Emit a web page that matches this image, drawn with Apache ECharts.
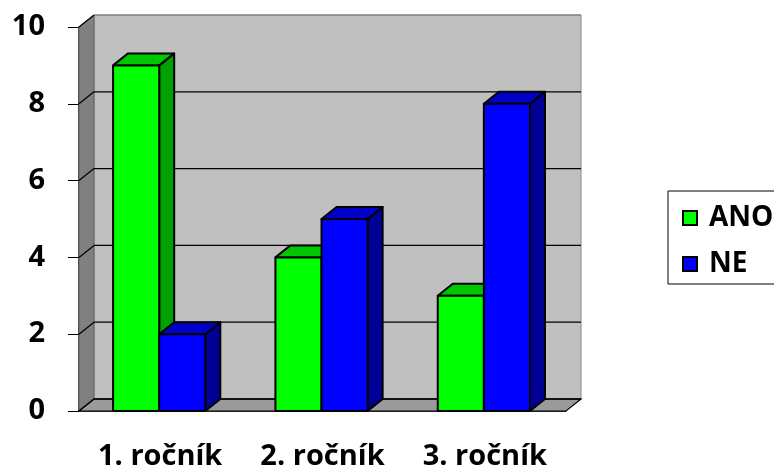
<!DOCTYPE html>
<html><head><meta charset="utf-8">
<script src="https://cdn.jsdelivr.net/npm/echarts/dist/echarts.min.js"></script>
<style>html,body{margin:0;padding:0;background:#fff}#c{width:774px;height:471px}</style>
</head><body><div id="c"></div>
<script>
const categories = ['1. ročník', '2. ročník', '3. ročník'];
const anoValues = [9, 4, 3];
const neValues = [2, 5, 8];
const yTicks = [0, 2, 4, 6, 8, 10];

const DX = 15, DY = -12;
const FONT = '"Open Sans", "Noto Sans", sans-serif';

function renderWalls(params, api) {
  const cs = params.coordSys;
  const x0 = cs.x, x1 = cs.x + cs.width, yb = cs.y + cs.height, yt = cs.y;
  const ch = [];
  ch.push({type: 'polygon', shape: {points: [[x0 + DX, yt + DY], [x1 + DX, yt + DY], [x1 + DX, yb + DY], [x0 + DX, yb + DY]]},
    style: {fill: '#c0c0c0', stroke: '#8a8a8a', lineWidth: 1}});
  ch.push({type: 'polygon', shape: {points: [[x0, yb], [x0, yt], [x0 + DX, yt + DY], [x0 + DX, yb + DY]]},
    style: {fill: '#808080', stroke: '#606060', lineWidth: 1}});
  ch.push({type: 'polygon', shape: {points: [[x0, yb], [x1, yb], [x1 + DX, yb + DY], [x0 + DX, yb + DY]]},
    style: {fill: '#9a9a9a', stroke: '#000', lineWidth: 1.2}});
  yTicks.forEach(function (t) {
    const y = api.coord([0, t])[1];
    const top = t === yTicks[yTicks.length - 1];
    ch.push({type: 'polyline', shape: {points: [[x0, y], [x0 + DX, y + DY]]},
      style: {stroke: '#000', lineWidth: 1.3, fill: null}});
    ch.push({type: 'polyline', shape: {points: [[x0 + DX, y + DY], [x1 + DX, y + DY]]},
      style: {stroke: top ? '#777' : '#000', lineWidth: top ? 1 : 1.3, fill: null}});
  });
  return {type: 'group', children: ch};
}

function makeBarRender(idx, front, top, side) {
  return function (params, api) {
    const ci = api.value(0), v = api.value(1);
    const W = api.size([1, 0])[0];
    const c = api.coord([ci, v]);
    const base = api.coord([ci, 0]);
    const bw = W * 0.284;
    const xl = c[0] - W / 2 + W * 0.21 + idx * bw;
    const xr = xl + bw;
    const yt = c[1], yb = base[1];
    const st = {stroke: '#000', lineWidth: 2, lineJoin: 'round'};
    return {type: 'group', children: [
      {type: 'polygon', shape: {points: [[xr, yb], [xr + DX, yb + DY], [xr + DX, yt + DY], [xr, yt]]}, style: Object.assign({}, st, {fill: side})},
      {type: 'polygon', shape: {points: [[xl, yt], [xr, yt], [xr + DX, yt + DY], [xl + DX, yt + DY]]}, style: Object.assign({}, st, {fill: top})},
      {type: 'rect', shape: {x: xl, y: yt, width: bw, height: yb - yt}, style: Object.assign({}, st, {fill: front})}
    ]};
  };
}

const chart = echarts.init(document.getElementById('c'), null, {renderer: 'canvas'});
chart.setOption({
  backgroundColor: '#fff',
  animation: false,
  grid: {left: 79, right: 208, top: 27, bottom: 59},
  legend: {
    data: [
      {name: 'ANO', itemStyle: {color: '#00ff00', borderColor: '#000', borderWidth: 2}},
      {name: 'NE', itemStyle: {color: '#0000ff', borderColor: '#000', borderWidth: 2}}
    ],
    orient: 'vertical', left: 668, top: 191,
    icon: 'rect', itemWidth: 14, itemHeight: 14, itemGap: 18,
    borderColor: '#000', borderWidth: 1, padding: [13, 50, 6, 14],
    textStyle: {fontFamily: FONT, fontWeight: 'bold', fontSize: 28, color: '#000', lineHeight: 28, padding: [0, 0, 0, 7]}
  },
  xAxis: {
    type: 'category', data: categories,
    axisLine: {lineStyle: {color: '#000', width: 1.5}},
    axisTick: {length: 10, lineStyle: {color: '#000', width: 1}},
    axisLabel: {fontFamily: FONT, fontWeight: 'bold', fontSize: 29, color: '#000', margin: 31}
  },
  yAxis: {
    type: 'value', min: 0, max: 10, interval: 2,
    axisLine: {show: true, lineStyle: {color: '#000', width: 1.5}},
    axisTick: {show: true, length: 11, lineStyle: {color: '#000', width: 1}},
    axisLabel: {fontFamily: FONT, fontWeight: 'bold', fontSize: 29, color: '#000', margin: 34},
    splitLine: {show: false}
  },
  series: [
    {type: 'custom', name: 'walls', renderItem: renderWalls, data: [[0, 0]], encode: {x: 0, y: 1}, silent: true, z: 1},
    {type: 'custom', name: 'ANO', renderItem: makeBarRender(0, '#00ff00', '#00c800', '#00a000'),
      itemStyle: {color: '#00ff00'}, data: anoValues.map(function (v, i) { return [i, v]; }), encode: {x: 0, y: 1}, z: 2},
    {type: 'custom', name: 'NE', renderItem: makeBarRender(1, '#0000ff', '#0000c8', '#000096'),
      itemStyle: {color: '#0000ff'}, data: neValues.map(function (v, i) { return [i, v]; }), encode: {x: 0, y: 1}, z: 3}
  ]
});
</script>
</body></html>
